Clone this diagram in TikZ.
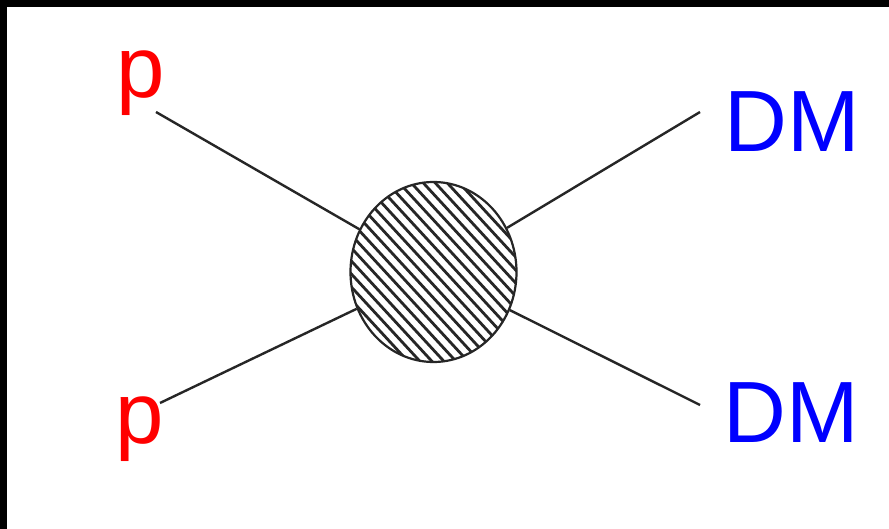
\documentclass[tikz,border=0pt]{standalone}
\usepackage{fontspec}
\setmainfont{Liberation Sans}
\usetikzlibrary{shapes.geometric}
\begin{document}
\begin{tikzpicture}[x=1pt,y=1pt,
  lbl/.style={font=\fontsize{87}{87}\selectfont, inner sep=0pt, anchor=base},
  leg/.style={draw=black!85, line width=2.4pt},
  hatch/.style={draw=black!85, line width=2.8pt},
  blob/.style={ellipse, draw=black!85, line width=2.2pt, minimum width=166pt, minimum height=180pt, inner sep=0pt}]
\useasboundingbox (0,0) rectangle (889,-529);
\fill[black] (0,0) rectangle (889,-529);
\fill[white] (7,-7) rectangle (889,-529);
% hatching inside the blob
\begin{scope}
  \clip (433.5,-272) ellipse [x radius=83, y radius=90];
  \foreach \k in {-20,...,20}
    \draw[hatch] (433.5+\k*12-120, -272+130) -- ++(240,-260);
\end{scope}
\node[blob] (v) at (433.5,-272) {};
% labels
\node[lbl, text=red]  (p1)  at (141,-98)  {p};
\node[lbl, text=red]  (p2)  at (140,-443) {p};
\node[lbl, text=blue] (dm1) at (792,-152) {DM};
\node[lbl, text=blue] (dm2) at (791,-442) {DM};
% free ends of the legs
\coordinate (a) at (156,-112);
\coordinate (b) at (160,-403);
\coordinate (c) at (700,-112);
\coordinate (d) at (700,-405);
\draw[leg] (a) -- (v);
\draw[leg] (b) -- (v);
\draw[leg] (c) -- (v);
\draw[leg] (d) -- (v);
\end{tikzpicture}
\end{document}
